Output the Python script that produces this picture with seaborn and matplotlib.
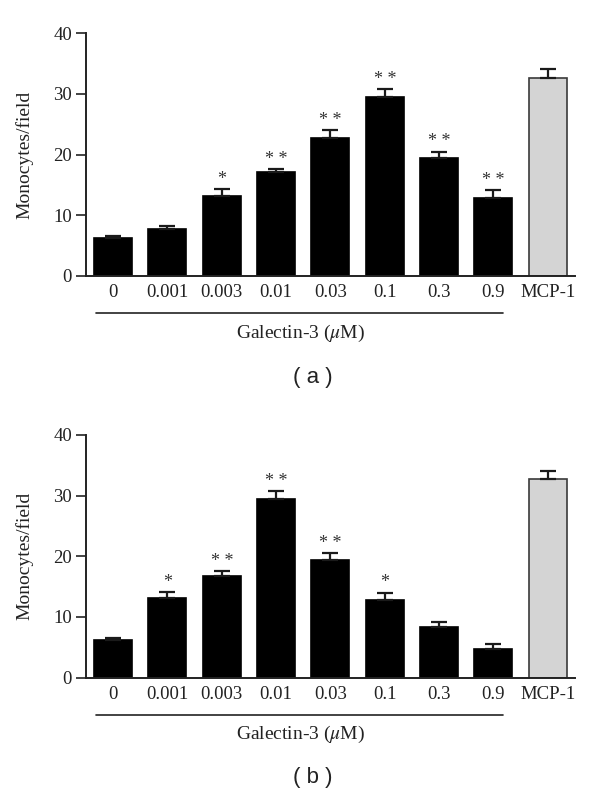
import numpy as np
import pandas as pd
import matplotlib
matplotlib.use('Agg')
import matplotlib.pyplot as plt
import seaborn as sns

sns.set_style('ticks')
plt.rcParams['font.family'] = ['Liberation Serif', 'DejaVu Serif']
plt.rcParams['mathtext.fontset'] = 'stix'

doses = ['0', '0.001', '0.003', '0.01', '0.03', '0.1', '0.3', '0.9', 'MCP-1']

# panel (a)
mean_a = [6.2, 7.7, 13.2, 17.05, 22.8, 29.5, 19.5, 12.9, 32.6]
err_a = [0.4, 0.6, 1.1, 0.55, 1.2, 1.25, 1.0, 1.2, 1.5]
sig_a = ['', '', '*', '* *', '* *', '* *', '* *', '* *', '']

# panel (b)
mean_b = [6.25, 13.15, 16.7, 29.5, 19.45, 12.8, 8.4, 4.65, 32.7]
err_b = [0.3, 0.9, 0.8, 1.3, 1.05, 1.2, 0.8, 0.95, 1.3]
sig_b = ['', '*', '* *', '* *', '* *', '*', '', '', '']

bar_colors = ['black'] * 8 + ['#d4d4d4']
edge_colors = ['black'] * 8 + ['#3a3a3a']

fig = plt.figure(figsize=(6, 7.94), dpi=100)
ax_a = fig.add_axes([0.1433, 0.6524, 0.815, 0.3058])
ax_b = fig.add_axes([0.1433, 0.1465, 0.815, 0.3058])


def draw_panel(ax, means, errs, sigs, letter, letter_y):
    df = pd.DataFrame({'dose': doses, 'value': means})
    sns.barplot(data=df, x='dose', y='value', hue='dose', palette=bar_colors,
                legend=False, width=0.7, saturation=1, ax=ax, errorbar=None)
    for patch, ec in zip(ax.patches, edge_colors):
        patch.set_edgecolor(ec)
        patch.set_linewidth(1.2)
    x = np.arange(len(doses))
    ax.errorbar(x, means, yerr=[np.zeros(len(errs)), errs], fmt='none',
                ecolor='#1a1a1a', elinewidth=1.6, capsize=6, capthick=1.6,
                zorder=1)
    for xi, m, e, s in zip(x, means, errs, sigs):
        if s:
            ax.text(xi, m + e + 0.2, s, ha='center', va='bottom',
                    fontsize=13, color='#333333')
    ax.set_xlim(-0.5, 8.5)
    ax.set_ylim(0, 40)
    ax.set_yticks([0, 10, 20, 30, 40])
    ax.set_xlabel('')
    ax.set_ylabel('Monocytes/field', fontsize=14, color='#222222')
    ax.yaxis.set_label_coords(-0.108, 0.5)
    ax.tick_params(axis='y', length=7, width=1.2, colors='#222222',
                   labelsize=13.5, pad=3)
    ax.tick_params(axis='x', length=0, labelsize=13.5, colors='#222222', pad=6)
    for side in ['top', 'right']:
        ax.spines[side].set_visible(False)
    for side in ['left', 'bottom']:
        ax.spines[side].set_linewidth(1.4)
        ax.spines[side].set_color('#222222')
    trans = ax.get_xaxis_transform()
    ax.plot([-0.31, 7.18], [-0.152, -0.152], color='#222222', lw=1.2,
            transform=trans, clip_on=False)
    ax.text(3.44, -0.235, r'Galectin-3 ($\mu$M)', transform=trans,
            ha='center', va='center', fontsize=14, color='#222222')
    fig.text(0.522, letter_y, '( ' + letter + ' )', ha='center', va='center',
             fontsize=16, color='#222222',
             family=['Liberation Sans', 'DejaVu Sans'])


draw_panel(ax_a, mean_a, err_a, sig_a, 'a', 1 - 378 / 794)
draw_panel(ax_b, mean_b, err_b, sig_b, 'b', 1 - 778 / 794)

fig.savefig('out.png', dpi=100)
